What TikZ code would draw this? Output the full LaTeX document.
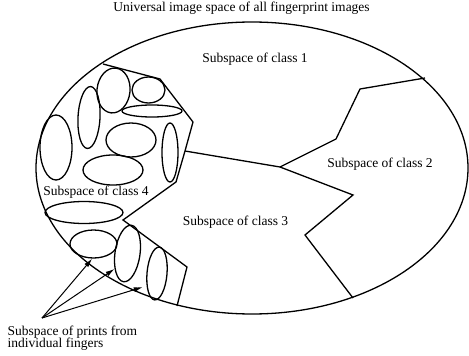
\documentclass[tikz,border=0pt]{standalone}
\usepackage{fontspec}
\setmainfont{Liberation Serif}
\usetikzlibrary{shapes.geometric,arrows.meta}
\begin{document}
\begin{tikzpicture}[x=1pt,y=-1pt,
  line width=1.3pt,
  lbl/.style={font=\fontsize{13.5}{11}\selectfont, inner sep=0pt, anchor=base},
  fing/.style={draw, shape=ellipse, inner sep=0pt},
  pointer/.style={-{Latex[length=9pt,width=5pt]}, line width=1pt}
]
\useasboundingbox (0,0) rectangle (469,356);

% universal space
\draw (252,168) ellipse [x radius=216, y radius=146];

% class 4 boundary
\draw (103,64) -- (160,79) -- (193,122) -- (185,151) -- (176,182) -- (123,220)
      -- (187,267) -- (177,306);
% class 1 / class 3 boundary
\draw (185,151) -- (280,167);
% class 1 / class 2 boundary
\draw (280,167) -- (336,139) -- (360,89) -- (425,78);
% class 2 / class 3 boundary
\draw (280,167) -- (353,195) -- (305,235) -- (353,298);

% subspaces of individual fingers
\node[fing, minimum width=32pt, minimum height=65pt] (e1) at (56,147.5) {};
\node[fing, minimum width=22pt, minimum height=62pt, rotate=-3] (e2) at (89,117.5) {};
\node[fing, minimum width=33pt, minimum height=45pt, rotate=-6] (e3) at (113.5,90.5) {};
\node[fing, minimum width=33pt, minimum height=26pt] (e4) at (148.5,90) {};
\node[fing, minimum width=60pt, minimum height=12pt] (e5) at (152,111) {};
\node[fing, minimum width=50pt, minimum height=34pt] (e6) at (131,140) {};
\node[fing, minimum width=60pt, minimum height=30pt] (e7) at (113,170) {};
\node[fing, minimum width=16pt, minimum height=59pt] (e8) at (170,152.5) {};
\node[fing, minimum width=78pt, minimum height=22pt] (e9) at (84,212.5) {};
\node[fing, minimum width=47pt, minimum height=28pt] (e10) at (93.5,244) {};
\node[fing, minimum width=25pt, minimum height=57pt, rotate=-8] (e11) at (127.5,253.5) {};
\node[fing, minimum width=20pt, minimum height=53pt, rotate=-5] (e12) at (157,273.5) {};

% labels
\node[lbl] (title) at (241.5,11) {Universal image space of all fingerprint images};
\node[lbl] (c1) at (255,62) {Subspace of class 1};
\node[lbl] (c2) at (380,167) {Subspace of class 2};
\node[lbl] (c3) at (235.5,225) {Subspace of class 3};
\node[lbl] (c4) at (96,195) {Subspace of class 4};
\node[font=\fontsize{13.5}{15}\selectfont, inner sep=0pt,
      anchor=base west, align=left]
  (prints) at (7,347.5) {Subspace of prints from\\[-2.5pt]individual fingers};

% pointers
\coordinate (src) at (42,318);
\draw[pointer] (src) -- (e10.265);
\draw[pointer] (src) -- (e11.238);
\draw[pointer, shorten >=4pt] (src) -- (e12.235);
\end{tikzpicture}
\end{document}
